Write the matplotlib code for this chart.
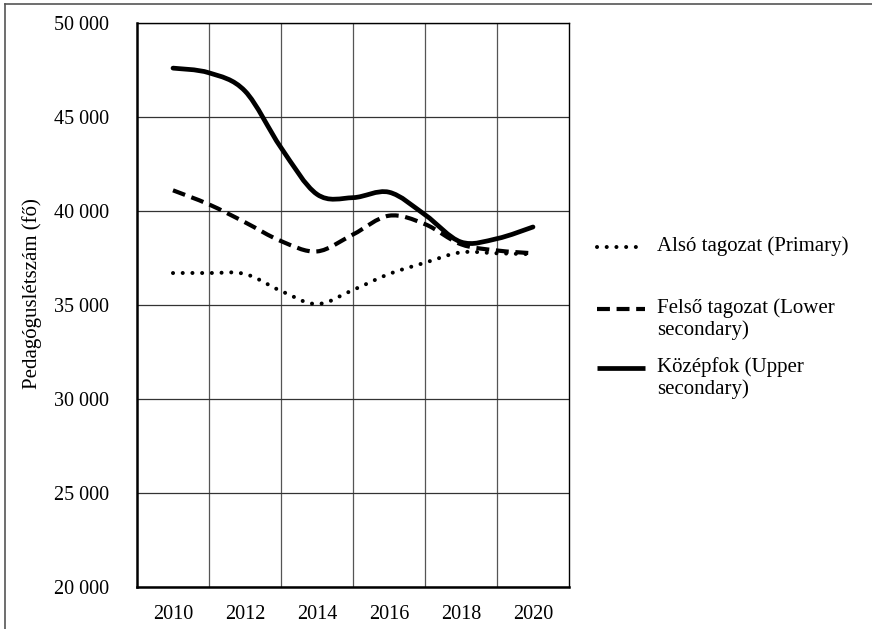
import matplotlib
matplotlib.use("Agg")
import matplotlib.pyplot as plt
from matplotlib.path import Path
from matplotlib.patches import PathPatch
from matplotlib.lines import Line2D
import numpy as np

years = list(range(2010, 2021))
primary = [36700, 36700, 36650, 35750, 35050, 35800, 36650, 37250, 37800, 37750, 37700]
lower_sec = [41100, 40350, 39400, 38400, 37850, 38750, 39750, 39300, 38230, 37900, 37750]
upper_sec = [47600, 47350, 46380, 43370, 40890, 40710, 41000, 39800, 38350, 38530, 39150]

labels = ["Alsó tagozat (Primary)", "Felső tagozat (Lower\nsecondary)", "Középfok (Upper\nsecondary)"]
xticks = [2010, 2012, 2014, 2016, 2018, 2020]
yticks = [20000, 25000, 30000, 35000, 40000, 45000, 50000]

plt.rcParams['font.family'] = ['Liberation Serif', 'DejaVu Serif']
FS_TICK = 14.5
FS = 15

fig = plt.figure(figsize=(8.72, 6.29), dpi=100)
ax = fig.add_axes([137/872, 42/629, 432/872, 564/629])


def smooth_path(xs, ys):
    xs = np.asarray(xs, float)
    ys = np.asarray(ys, float)
    n = len(xs)
    verts = [(xs[0], ys[0])]
    codes = [Path.MOVETO]
    for i in range(n - 1):
        p0 = np.array([xs[max(i - 1, 0)], ys[max(i - 1, 0)]])
        p1 = np.array([xs[i], ys[i]])
        p2 = np.array([xs[i + 1], ys[i + 1]])
        p3 = np.array([xs[min(i + 2, n - 1)], ys[min(i + 2, n - 1)]])
        c1 = p1 + (p2 - p0) / 6.0
        c2 = p2 - (p3 - p1) / 6.0
        verts += [tuple(c1), tuple(c2), tuple(p2)]
        codes += [Path.CURVE4] * 3
    return Path(verts, codes)


styles = [
    dict(lw=2.9, linestyle=(0, (0.01, 2.4)), capstyle='round'),
    dict(lw=3.0, linestyle=(0, (3.1, 1.6)), capstyle='butt'),
    dict(lw=3.4, linestyle='-', capstyle='round'),
]
series = [primary, lower_sec, upper_sec]

for ys, st in zip(series, styles):
    patch = PathPatch(smooth_path(years, ys), fill=False, edgecolor='black',
                      lw=st['lw'], linestyle=st['linestyle'], zorder=3)
    patch.set_capstyle(st['capstyle'])
    ax.add_patch(patch)

ax.set_xlim(2009, 2021)
ax.set_ylim(20000, 50000)
ax.set_xticks(xticks)
ax.set_xticklabels([str(x) for x in xticks], fontsize=FS_TICK)
ax.set_xticks(list(range(2011, 2020, 2)), minor=True)
ax.set_yticks(yticks)
ax.set_yticklabels([f"{v:,}".replace(",", " ") for v in yticks], fontsize=FS_TICK)
ax.tick_params(axis='both', which='both', length=0)
ax.tick_params(axis='y', pad=20)
ax.tick_params(axis='x', pad=13)
ax.grid(True, axis='y', which='major', color='#333333', lw=0.9)
ax.grid(True, axis='x', which='minor', color='#555555', lw=0.9)
ax.set_axisbelow(True)
for side in ['left', 'bottom']:
    ax.spines[side].set_linewidth(1.8)
for side in ['top', 'right']:
    ax.spines[side].set_linewidth(1.0)
ax.set_ylabel("Pedagóguslétszám (fő)", fontsize=FS)
ax.yaxis.set_label_coords(-95/432, 0.52)

# legend drawn manually (handle aligned with first text line)
W, H = 872, 629
leg_y = [247, 309, 368]
for lab, st, yy in zip(labels, styles, leg_y):
    yf = 1 - yy / H
    ln = Line2D([597 / W, 645 / W], [yf, yf], transform=fig.transFigure,
                color='black', lw=st['lw'], linestyle=st['linestyle'])
    ln.set_solid_capstyle('butt')
    ln.set_dash_capstyle(st['capstyle'])
    fig.add_artist(ln)
    fig.text(657 / W, yf + 10.5 / H, lab, fontsize=FS, va='top', ha='left',
             transform=fig.transFigure, linespacing=1.15)

# outer frame lines (top and left)
fig.add_artist(Line2D([5 / W, 1], [1 - 4 / H, 1 - 4 / H], transform=fig.transFigure, color='#555555', lw=1.2))
fig.add_artist(Line2D([5 / W, 5 / W], [0, 1 - 4 / H], transform=fig.transFigure, color='#555555', lw=1.2))

fig.savefig("out.png", dpi=100)
